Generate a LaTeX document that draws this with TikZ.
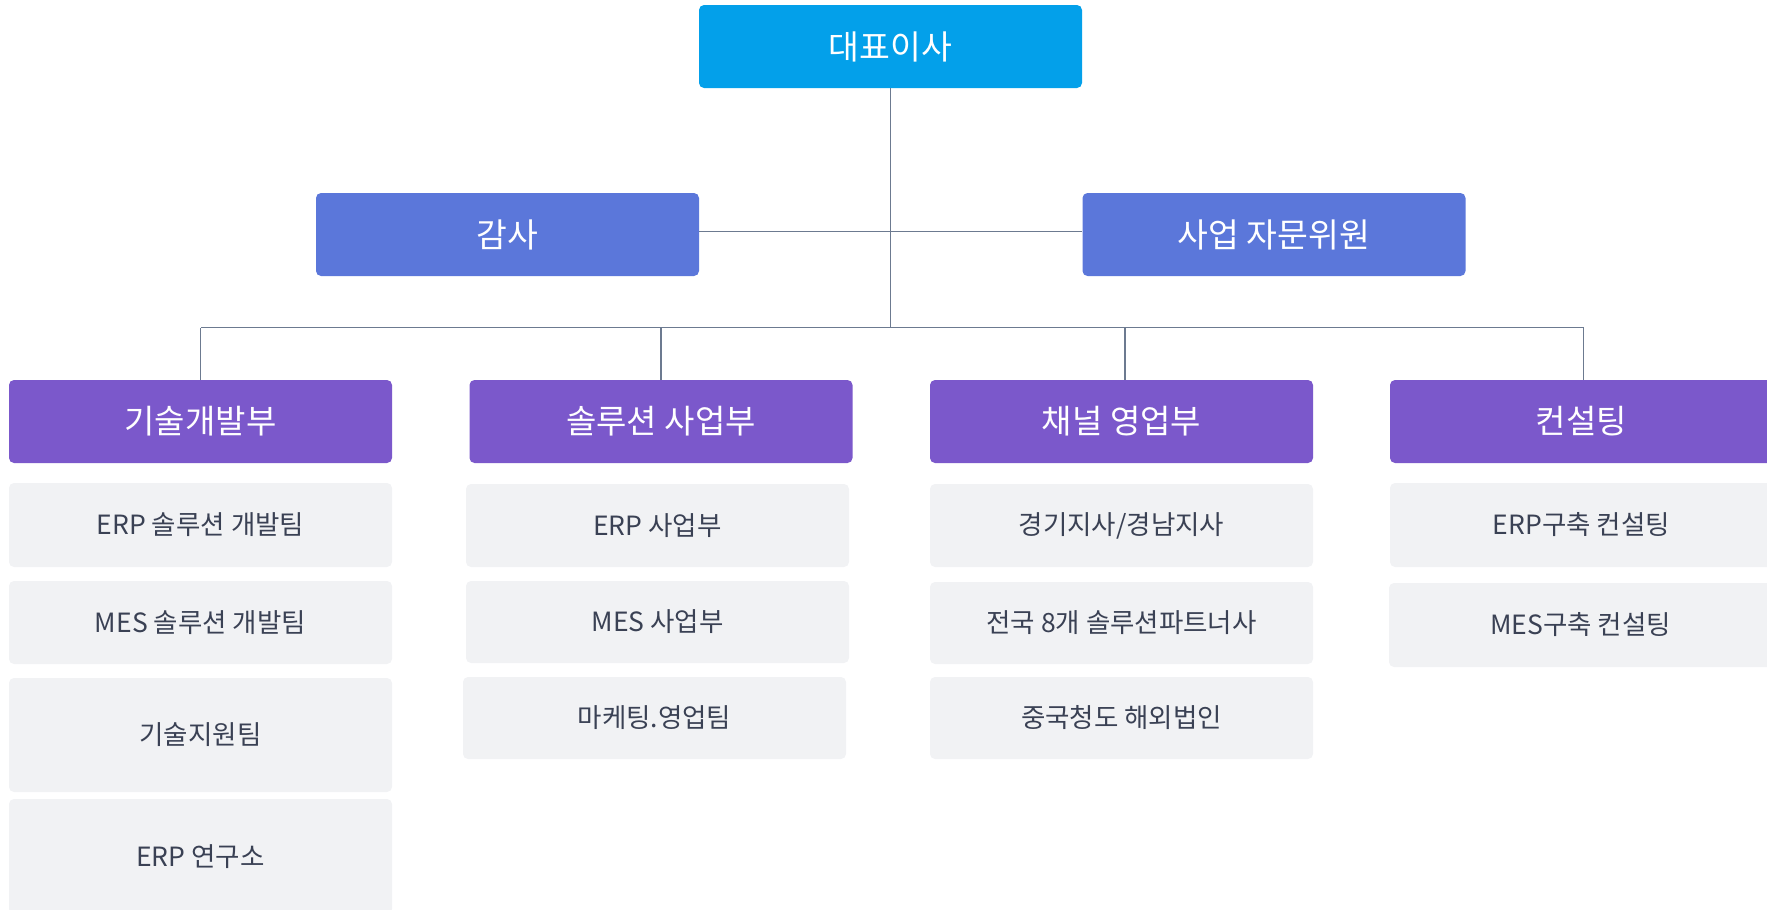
\documentclass[tikz,border=0pt]{standalone}
\usepackage{fontspec}
\setmainfont{Noto Sans CJK KR}
\definecolor{ceoc}{RGB}{3,160,234}
\definecolor{midc}{RGB}{91,119,218}
\definecolor{deptc}{RGB}{123,88,203}
\definecolor{subfill}{RGB}{241,242,244}
\definecolor{subtext}{RGB}{58,65,84}
\definecolor{linec}{RGB}{108,122,144}
\tikzset{
  boxbase/.style={rectangle, rounded corners=5pt, inner sep=0pt, minimum width=383pt, minimum height=83pt},
  topbox/.style={boxbase, fill=ceoc, text=white, font=\fontsize{33.5}{40}\selectfont},
  midbox/.style={boxbase, fill=midc, text=white, font=\fontsize{33.5}{40}\selectfont},
  deptbox/.style={boxbase, fill=deptc, text=white, font=\fontsize{33}{40}\selectfont},
  subbox/.style={boxbase, fill=subfill, text=subtext, font=\fontsize{26.5}{32}\selectfont},
  conn/.style={draw=linec, line width=1.3pt}
}
\begin{document}
\begin{tikzpicture}[x=1pt,y=-1pt]
\useasboundingbox (0,0) rectangle (1767,910);
\clip (0,0) rectangle (1767,910);
% top levels
\node[topbox] (ceo) at (890.5,46.5) {대표이사};
\node[midbox] (audit) at (507.5,234.5) {감사};
\node[midbox] (adv) at (1274,234.5) {사업 자문위원};
% departments
\node[deptbox] (d1) at (200.5,421.5) {기술개발부};
\node[deptbox] (d2) at (661,421.5) {솔루션 사업부};
\node[deptbox] (d3) at (1121.5,421.5) {채널 영업부};
\node[deptbox] (d4) at (1581.5,421.5) {컨설팅};
% sub units
\node[subbox, minimum height=84pt] (s11) at (200.5,525) {ERP 솔루션 개발팀};
\node[subbox] (s12) at (200.5,622.5) {MES 솔루션 개발팀};
\node[subbox, minimum height=114pt] (s13) at (200.5,735) {기술지원팀};
\node[subbox, minimum height=115pt] (s14) at (200.5,856.5) {ERP 연구소};
\node[subbox] (s21) at (657.5,525.5) {ERP 사업부};
\node[subbox, minimum height=82pt] (s22) at (657.5,622) {MES 사업부};
\node[subbox, minimum height=82pt] (s23) at (654.5,718) {마케팅.영업팀};
\node[subbox] (s31) at (1121.5,525.5) {경기지사/경남지사};
\node[subbox, minimum height=82pt] (s32) at (1121.5,623) {전국 8개 솔루션파트너사};
\node[subbox, minimum height=82pt] (s33) at (1121.5,718) {중국청도 해외법인};
\node[subbox, minimum height=84pt] (s41) at (1581.5,525) {ERP구축 컨설팅};
\node[subbox, minimum height=84pt] (s42) at (1580.5,625) {MES구축 컨설팅};
% connectors
\coordinate (bus) at (890.5,327.7);
\coordinate (busl) at (200.5,327.7);
\coordinate (busr) at (1583.5,327.7);
\draw[conn] (ceo.south) -- (bus);
\draw[conn] ([yshift=2.8pt]audit.east) -- ([yshift=2.8pt]adv.west);
\draw[conn] (busl) -- (busr);
\draw[conn] (d1.north) -- (d1.north |- bus);
\draw[conn] (d2.north) -- (d2.north |- bus);
\draw[conn] ([xshift=3.5pt]d3.north) -- ([xshift=3.5pt]d3.north |- bus);
\draw[conn] ([xshift=2pt]d4.north) -- ([xshift=2pt]d4.north |- bus);
\end{tikzpicture}
\end{document}
